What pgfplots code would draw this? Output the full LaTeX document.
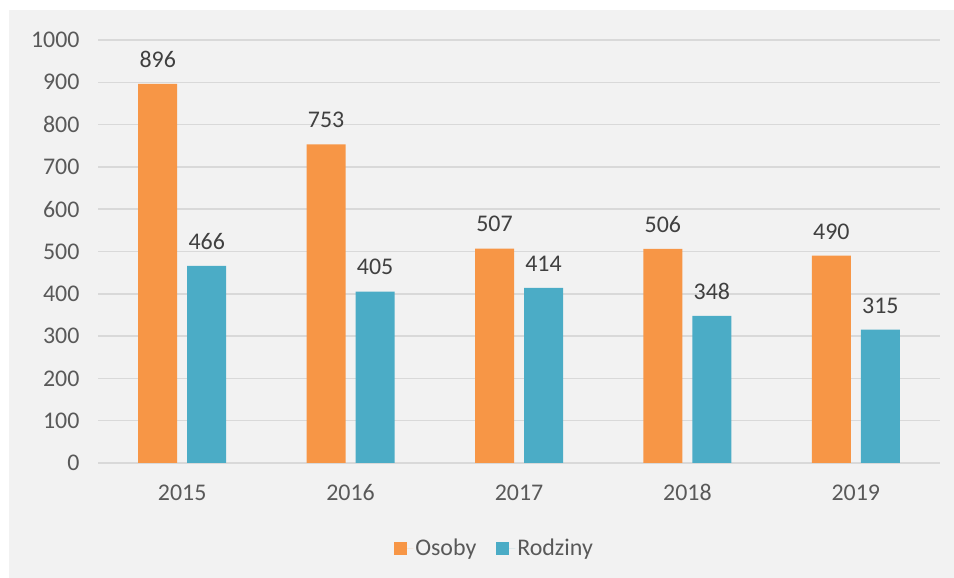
\documentclass[border=0pt]{standalone}
\usepackage{fontspec}
\setmainfont{Carlito}
\usepackage{pgfplots}
\pgfplotsset{compat=1.18}
\definecolor{osoby}{HTML}{F79646}
\definecolor{rodziny}{HTML}{4BACC6}
\definecolor{bg}{HTML}{F2F2F2}
\definecolor{gridc}{HTML}{D9D9D9}
\definecolor{tickc}{HTML}{595959}
\definecolor{labc}{HTML}{404040}
\newcommand\chartfont{\fontsize{24}{28}\selectfont}

\begin{document}
\begin{tikzpicture}[x=1bp,y=1bp]
\path[use as bounding box] (0,0) rectangle (954,578);
\fill[bg] (9,0) rectangle (954,568);
\begin{axis}[
    at={(98bp,115bp)}, anchor=south west,
    scale only axis, width=842bp, height=423bp,
    xmin=-0.5, xmax=4.5, ymin=0, ymax=1000,
    ybar=10bp, bar width=39bp,
    axis line style={draw=none},
    major tick length=0pt,
    ymajorgrids, grid style={gridc, line width=1.5bp},
    xtick={0,1,2,3,4},
    xticklabels={2015,2016,2017,2018,2019},
    ytick={0,100,...,1000},
    /pgf/number format/assume math mode=true,
    /pgf/number format/1000 sep={},
    tick label style={font=\chartfont, text=tickc},
    yticklabel style={xshift=-15bp},
    xticklabel style={yshift=-18bp},
    nodes near coords,
    nodes near coords style={font=\chartfont, text=labc, yshift=13bp},
    legend style={at={(0.471,-0.201)}, anchor=center, draw=none, fill=none,
        legend columns=2, font=\chartfont, text=tickc,
        /tikz/every even column/.append style={column sep=18bp}},
    legend image code/.code={\fill[#1] (0bp,-6.5bp) rectangle (13bp,6.5bp);
        \path (0bp,0bp) -- (19bp,0bp);},
]
\addplot[fill=osoby, draw=none] coordinates {(0,896) (1,753) (2,507) (3,506) (4,490)};
\addplot[fill=rodziny, draw=none] coordinates {(0,466) (1,405) (2,414) (3,348) (4,315)};
\legend{Osoby, Rodziny}
\end{axis}
\end{tikzpicture}
\end{document}
